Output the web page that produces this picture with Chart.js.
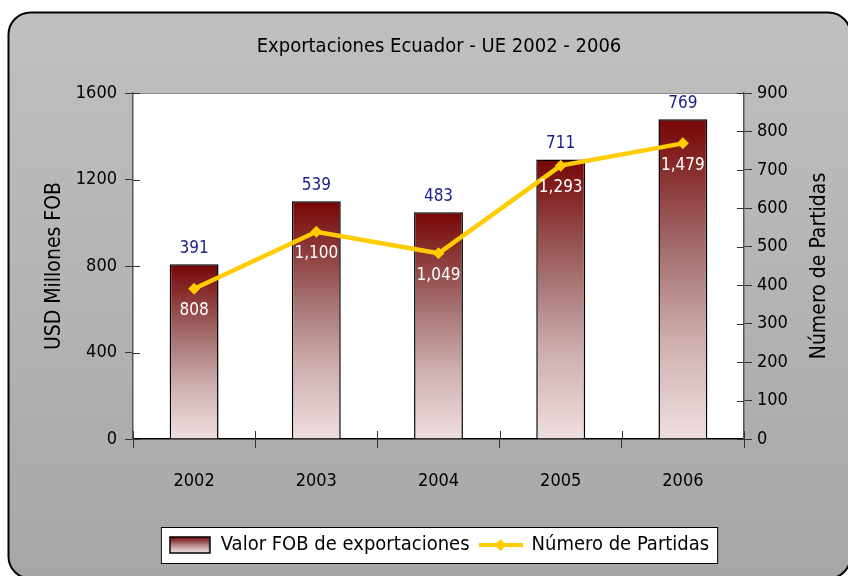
<!DOCTYPE html>
<html>
<head>
<meta charset="utf-8">
<script src="https://cdn.jsdelivr.net/npm/chart.js@4.4.1/dist/chart.umd.min.js"></script>
<style>
  html, body { margin: 0; padding: 0; background: #fff; }
  #wrap { width: 848px; height: 576px; }
</style>
</head>
<body>
<div id="wrap"><canvas id="chart" width="848" height="576"></canvas></div>
<script>
const years = ["2002", "2003", "2004", "2005", "2006"];
const fobValues = [808, 1100, 1049, 1293, 1479];
const partidas = [391, 539, 483, 711, 769];
const leftTicks = [0, 400, 800, 1200, 1600];

const FONT = "'DejaVu Sans Condensed', 'Liberation Sans Narrow', 'DejaVu Sans', sans-serif";

function barGradient(ctx, top, bottom) {
  let g = ctx.createLinearGradient(0, top, 0, bottom);
  g.addColorStop(0, "#770505");
  g.addColorStop(0.4, "#a26c6c");
  g.addColorStop(0.7, "#cfb0b0");
  g.addColorStop(1, "#efdfdf");
  return g;
}

// legend swatches
function makeBarSwatch() {
  let c = document.createElement("canvas");
  c.width = 42; c.height = 18;
  let x = c.getContext("2d");
  x.fillStyle = barGradient(x, 1, 17);
  x.fillRect(1, 1, 40, 16);
  x.strokeStyle = "#000";
  x.lineWidth = 1.5;
  x.strokeRect(1, 1, 40, 16);
  return c;
}
function makeLineSwatch() {
  let c = document.createElement("canvas");
  c.width = 44; c.height = 14;
  let x = c.getContext("2d");
  x.strokeStyle = "#ffcc00";
  x.lineWidth = 4;
  x.beginPath(); x.moveTo(0, 7); x.lineTo(44, 7); x.stroke();
  x.fillStyle = "#ffcc00";
  x.beginPath(); x.moveTo(22, 1); x.lineTo(28, 7); x.lineTo(22, 13); x.lineTo(16, 7); x.closePath(); x.fill();
  return c;
}

const bgPlugin = {
  id: "bg",
  beforeDraw(chart) {
    let ctx = chart.ctx;
    let a = chart.chartArea;
    ctx.save();
    // outer rounded box
    let g = ctx.createLinearGradient(0, 12, 0, 576);
    g.addColorStop(0, "#c0c0c0");
    g.addColorStop(1, "#a7a7a7");
    ctx.beginPath();
    ctx.roundRect(8.5, 12.5, 842, 566, 22);
    ctx.fillStyle = g;
    ctx.fill();
    ctx.lineWidth = 2;
    ctx.strokeStyle = "#000";
    ctx.stroke();
    // plot area
    ctx.fillStyle = "#fff";
    ctx.fillRect(a.left, a.top, a.right - a.left, a.bottom - a.top);
    ctx.strokeStyle = "#8c8c8c";
    ctx.lineWidth = 1;
    ctx.beginPath();
    ctx.moveTo(a.left, a.top + 0.5);
    ctx.lineTo(a.right, a.top + 0.5);
    ctx.stroke();
    // legend box
    let boxes = chart.legend.legendHitBoxes;
    if (boxes && boxes.length) {
      let l = Math.min(...boxes.map(b => b.left)) - 8;
      let r = Math.max(...boxes.map(b => b.left + b.width)) + 8;
      let t = chart.legend.top + 2;
      let bt = chart.legend.bottom - 2;
      ctx.fillStyle = "#fff";
      ctx.fillRect(l, t, r - l, bt - t);
      ctx.strokeStyle = "#000";
      ctx.strokeRect(l + 0.5, t + 0.5, r - l, bt - t);
    }
    ctx.restore();
  },
  afterDraw(chart) {
    let ctx = chart.ctx;
    let a = chart.chartArea;
    let y = chart.scales.y, y2 = chart.scales.y2, x = chart.scales.x;
    ctx.save();
    // inner halves of the tick marks
    ctx.strokeStyle = "#333";
    ctx.lineWidth = 1;
    ctx.beginPath();
    y.ticks.forEach(t => {
      let py = Math.round(y.getPixelForValue(t.value)) + 0.5;
      ctx.moveTo(a.left, py); ctx.lineTo(a.left + 7, py);
    });
    y2.ticks.forEach(t => {
      let py = Math.round(y2.getPixelForValue(t.value)) + 0.5;
      ctx.moveTo(a.right - 7, py); ctx.lineTo(a.right, py);
    });
    for (let i = 0; i <= years.length; i++) {
      let px = Math.round(x.getPixelForValue(i - 0.5)) + 0.5;
      ctx.moveTo(px, a.bottom - 8); ctx.lineTo(px, a.bottom);
    }
    ctx.stroke();

    // data labels
    ctx.font = "17px " + FONT;
    ctx.textAlign = "center";
    ctx.textBaseline = "middle";
    let barMeta = chart.getDatasetMeta(0);
    let lineMeta = chart.getDatasetMeta(1);
    fobValues.forEach((v, i) => {
      let bar = barMeta.data[i];
      let pt = lineMeta.data[i];
      ctx.fillStyle = "#fff";
      ctx.fillText(v.toLocaleString("en-US"), bar.x, pt.y + 22);
      ctx.fillStyle = "#1c1c8a";
      ctx.fillText(String(partidas[i]), bar.x, bar.y - 16);
    });

    // right axis title, reading bottom to top
    ctx.font = "21px " + FONT;
    ctx.fillStyle = "#000";
    ctx.translate(820, (a.top + a.bottom) / 2);
    ctx.rotate(-Math.PI / 2);
    ctx.fillText("Número de Partidas", 0, 0);
    ctx.restore();
  }
};

new Chart(document.getElementById("chart"), {
  data: {
    labels: years,
    datasets: [
      {
        type: "bar",
        label: "Valor FOB de exportaciones",
        data: fobValues,
        yAxisID: "y",
        order: 2,
        backgroundColor(c) {
          let chart = c.chart;
          if (!chart.chartArea || c.dataIndex === undefined) return "#a57272";
          let top = chart.scales.y.getPixelForValue(fobValues[c.dataIndex]);
          let base = chart.scales.y.getPixelForValue(0);
          return barGradient(chart.ctx, top, base);
        },
        borderColor: "#000",
        borderWidth: 1.5,
        categoryPercentage: 0.8,
        barPercentage: 0.5,
      },
      {
        type: "line",
        label: "Número de Partidas",
        data: partidas,
        yAxisID: "y2",
        order: 1,
        borderColor: "#ffcc00",
        backgroundColor: "#ffcc00",
        borderWidth: 4.5,
        pointStyle: "rectRot",
        pointRadius: 6,
        pointBorderWidth: 0,
        tension: 0,
      },
    ],
  },
  options: {
    responsive: false,
    animation: false,
    layout: { padding: { left: 40, right: 10, top: 30, bottom: 11 } },
    scales: {
      x: {
        afterFit(s) { s.height = 86; },
        grid: { display: true, drawOnChartArea: false, offset: true, color: "#333", tickLength: 9 },
        border: { color: "#000", width: 1.5 },
        ticks: { color: "#000", font: { family: FONT, size: 18 }, padding: 23 },
      },
      y: {
        position: "left",
        min: 0,
        max: 1600,
        afterFit(s) { s.width = 93; },
        afterBuildTicks(s) { s.ticks = leftTicks.map(v => ({ value: v })); },
        grid: { drawOnChartArea: false, color: "#333", tickLength: 8 },
        border: { color: "#555", width: 1.5 },
        ticks: { color: "#000", font: { family: FONT, size: 18 }, padding: 8, callback: v => String(v) },
        title: { display: true, text: "USD Millones FOB", color: "#000", font: { family: FONT, size: 21 }, padding: { top: 2, bottom: 0 } },
      },
      y2: {
        position: "right",
        min: 0,
        max: 900,
        afterFit(s) { s.width = 94; },
        ticks: { stepSize: 100, color: "#000", font: { family: FONT, size: 18 }, padding: 5 },
        grid: { drawOnChartArea: false, color: "#333", tickLength: 8 },
        border: { color: "#555", width: 1.5 },
      },
    },
    plugins: {
      title: {
        display: true,
        text: "Exportaciones Ecuador - UE 2002 - 2006",
        color: "#000",
        font: { family: FONT, size: 20, weight: "normal" },
        padding: { top: 5, bottom: 34 },
      },
      legend: {
        position: "bottom",
        labels: {
          color: "#000",
          font: { family: FONT, size: 20 },
          usePointStyle: true,
          pointStyleWidth: 42,
          padding: 10,
          generateLabels(chart) {
            return [
              { text: "Valor FOB de exportaciones", pointStyle: makeBarSwatch(), fillStyle: "#fff", strokeStyle: "#fff", lineWidth: 0, datasetIndex: 0 },
              { text: "Número de Partidas", pointStyle: makeLineSwatch(), fillStyle: "#fff", strokeStyle: "#fff", lineWidth: 0, datasetIndex: 1 },
            ];
          },
        },
      },
      tooltip: { enabled: false },
    },
  },
  plugins: [bgPlugin],
});
</script>
</body>
</html>
